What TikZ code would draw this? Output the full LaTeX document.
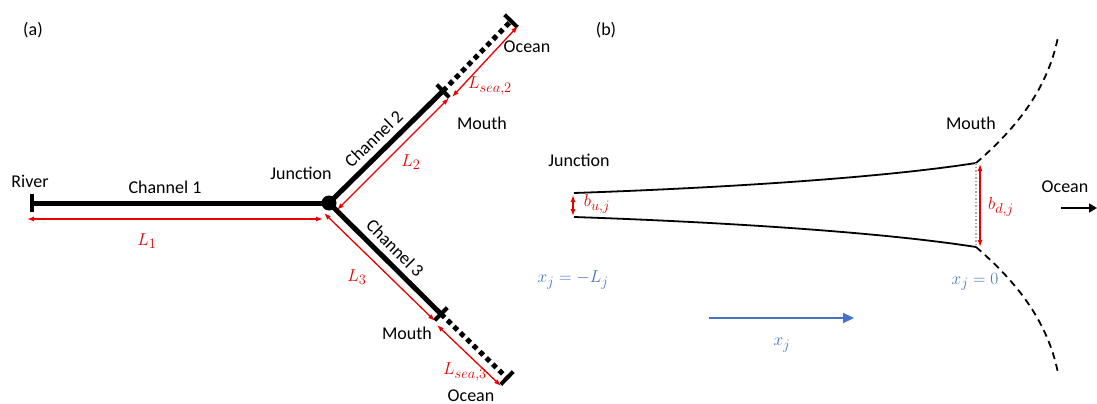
\documentclass[tikz,border=0pt]{standalone}
\usepackage{fontspec}
\setmainfont{Carlito}
\usetikzlibrary{arrows.meta,calc}
\definecolor{myred}{RGB}{232,0,0}
\definecolor{myblue}{RGB}{68,114,196}
\begin{document}
\begin{tikzpicture}[x=1pt,y=-1pt,font=\fontsize{18}{21}\selectfont,
  chan/.style={line width=5pt},
  tick/.style={line width=4pt},
  sea/.style={line width=5pt,dash pattern=on 5pt off 4pt},
  dim/.style={myred,line width=1.3pt,{Latex[length=7pt,width=5pt]}-{Latex[length=7pt,width=5pt]}},
  rlab/.style={text=myred,font=\fontsize{19}{22}\selectfont},
  blab/.style={text=myblue,font=\fontsize{19}{22}\selectfont},
  clab/.style={anchor=south,inner sep=8pt},
  bank/.style={line width=1.8pt},
  sbank/.style={line width=1.8pt,dash pattern=on 7pt off 5pt}]
\useasboundingbox (0,0) rectangle (1097,404);
% ---------- panel (a)
\node (la) at (33,30) {(a)};
\coordinate (river) at (32,203);
\node[circle,fill,inner sep=0,minimum size=15pt] (J) at (329,203) {};
\coordinate (m2) at (443,91);
\coordinate (o2) at (511,21);
\coordinate (m3) at (441,314);
\coordinate (o3) at (507,378);
\draw[chan] (river) -- (J.center);
\draw[chan] (J.center) -- (m2);
\draw[chan] (J.center) -- (m3);
\draw[sea] (m2) -- (o2);
\draw[sea] (m3) -- (o3);
\draw[tick] (32,194) -- (32,212);
\draw[tick] ($(m2)!9pt!90:(J)$) -- ($(m2)!9pt!-90:(J)$);
\draw[tick] ($(o2)!9pt!90:(m2)$) -- ($(o2)!9pt!-90:(m2)$);
\draw[tick] ($(m3)!9pt!90:(J)$) -- ($(m3)!9pt!-90:(J)$);
\draw[tick] ($(o3)!9pt!90:(m3)$) -- ($(o3)!9pt!-90:(m3)$);
% dimension arrows
\coordinate (d1a) at (27,219);
\coordinate (d1b) at (323,219);
\coordinate (d2a) at (337,210);
\coordinate (d2b) at (449,98);
\coordinate (s2a) at (452,97);
\coordinate (s2b) at (518,26);
\coordinate (d3a) at (324,213);
\coordinate (d3b) at (435,321);
\coordinate (s3a) at (437,325);
\coordinate (s3b) at (501,386);
\draw[dim] (d1a) -- (d1b);
\draw[dim] (d2a) -- (d2b);
\draw[dim] (s2a) -- (s2b);
\draw[dim] (d3a) -- (d3b);
\draw[dim] (s3a) -- (s3b);
% labels
\node (river-l) at (30,181) {River};
\node (ch1) at (165,187) {Channel 1};
\node (junc) at (301,173) {Junction};
\node[clab,rotate=44] (ch2) at ($(J.center)!0.48!(m2)$) {Channel 2};
\node[clab,rotate=-45] (ch3) at ($(J.center)!0.5!(m3)$) {Channel 3};
\node (mouth2) at (482,123) {Mouth};
\node (ocean2) at (527,47) {Ocean};
\node (mouth3) at (407,333) {Mouth};
\node (ocean3) at (471,396) {Ocean};
\node[rlab] (L1) at (147,241) {$L_1$};
\node[rlab] (L2) at (411,162) {$L_2$};
\node[rlab] (Ls2) at (490,86) {$L_{sea,2}$};
\node[rlab] (L3) at (357,277) {$L_3$};
\node[rlab] (Ls3) at (465,372) {$L_{sea,3}$};
% ---------- panel (b)
\node (lb) at (606,30) {(b)};
\coordinate (ju) at (574,193);
\coordinate (jd) at (574,217);
\coordinate (mu) at (976,163);
\coordinate (md) at (976,247);
\coordinate (ou) at (1058,37);
\coordinate (od) at (1058,373);
\draw[bank] (ju) .. controls (720,188) and (880,178) .. (mu);
\draw[bank] (jd) .. controls (720,222) and (880,232) .. (md);
\draw[sbank] (mu) .. controls (1013,131) and (1047,92) .. (ou);
\draw[sbank] (md) .. controls (1013,279) and (1047,318) .. (od);
\draw[gray!70,line width=1.5pt,dotted] (mu) -- (md);
\coordinate (bua) at (573,195);
\coordinate (bub) at (573,216);
\coordinate (bda) at (980,164);
\coordinate (bdb) at (980,247);
\draw[dim] (bua) -- (bub);
\draw[dim] (bda) -- (bdb);
\coordinate (xa) at (709,318);
\coordinate (xb) at (854,318);
\draw[myblue,line width=2.2pt,-{Triangle[length=11pt,width=10pt]}] (xa) -- (xb);
\coordinate (oa) at (1061,208);
\coordinate (ob) at (1097,208);
\draw[line width=1.8pt,-{Triangle[length=8pt,width=9pt]}] (oa) -- (ob);
\node (juncb) at (579,160) {Junction};
\node (mouthb) at (971,123) {Mouth};
\node (oceanb) at (1065,187) {Ocean};
\node[rlab] (bu) at (597,204) {$b_{u,j}$};
\node[rlab] (bd) at (1001,207) {$b_{d,j}$};
\node[blab] (xL) at (573,280) {$x_j=-L_j$};
\node[blab] (x0) at (975,282) {$x_j=0$};
\node[blab] (xj) at (782,345) {$x_j$};
\end{tikzpicture}
\end{document}
